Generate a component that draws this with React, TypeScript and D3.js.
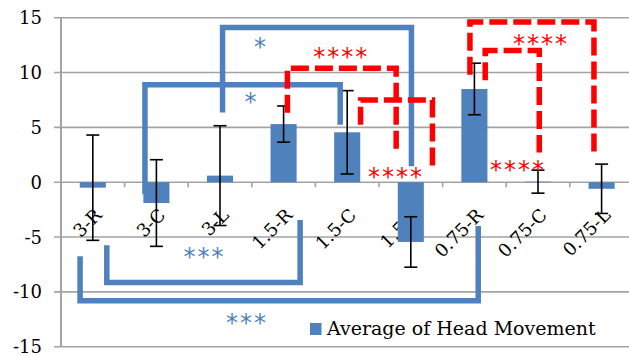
import React from 'react';
import * as d3 from 'd3';

// chart values
const categories = ['3-R', '3-C', '3-L', '1.5-R', '1.5-C', '1.5-L', '0.75-R', '0.75-C', '0.75-L'];
const means = [-0.5, -1.9, 0.6, 5.3, 4.55, -5.45, 8.5, 0.05, -0.6];
const errors = [4.8, 3.95, 4.55, 1.65, 3.8, 2.3, 2.35, 1.05, 2.25];
const yTicks = [-15, -10, -5, 0, 5, 10, 15];
const seriesName = 'Average of Head Movement';

// significance brackets, x in category units (0 = left edge), y in data units
const brackets = [
  { x1: 2.54, x2: 5.51, y: 14.1, end1: 6.36, end2: 1.45, kind: 'blue' },
  { x1: 1.32, x2: 4.39, y: 8.88, end1: -1.1, end2: 5.25, kind: 'blue' },
  { x1: 0.72, x2: 3.76, y: -9.15, end1: -5.75, end2: -3.45, kind: 'blue' },
  { x1: 0.3, x2: 6.56, y: -10.8, end1: -6.75, end2: -4.0, kind: 'blue' },
  { x1: 3.56, x2: 5.27, y: 10.4, end1: 6.34, end2: 2.5, kind: 'red' },
  { x1: 4.71, x2: 5.84, y: 7.5, end1: 5.25, end2: 1.35, kind: 'red' },
  { x1: 6.43, x2: 8.38, y: 14.6, end1: 9.8, end2: 2.8, kind: 'red' },
  { x1: 6.67, x2: 7.52, y: 12.0, end1: 9.3, end2: 2.7, kind: 'red' },
];

const sigLabels = [
  { text: '*', x: 3.13, y: 12.7, kind: 'blue' },
  { text: '*', x: 2.98, y: 7.67, kind: 'blue' },
  { text: '***', x: 2.24, y: -6.5, kind: 'blue' },
  { text: '***', x: 2.91, y: -12.5, kind: 'blue' },
  { text: '****', x: 4.39, y: 11.8, kind: 'red' },
  { text: '****', x: 5.25, y: 0.85, kind: 'red' },
  { text: '****', x: 7.53, y: 12.97, kind: 'red' },
  { text: '****', x: 7.17, y: 1.45, kind: 'red' },
];

const W = 629;
const H = 356;
const BAR = '#4F81BD';
const GRID = '#a3a3a3';
const SERIF = '"DejaVu Serif", serif';

export default function App() {
  const left = 61;
  const right = 633.4;
  const top = 17.7;
  const bottom = 346.7;

  const x = d3.scaleBand().domain(categories).range([left, right]).padding(0);
  const u = d3.scaleLinear().domain([0, categories.length]).range([left, right]);
  const y = d3.scaleLinear().domain([-15, 15]).range([bottom, top]);

  const bw = x.bandwidth();
  const barW = bw * 0.41;
  const capW = 13;
  const y0 = y(0);

  const colorOf = (k) => (k === 'red' ? '#ff0000' : BAR);

  return (
    <svg
      width={W}
      height={H}
      style={{ position: 'absolute', left: 0, top: 0, background: '#fff' }}
    >
      {/* gridlines */}
      {yTicks.map((t) => (
        <g key={t}>
          <line x1={left - 7} x2={W} y1={y(t)} y2={y(t)} stroke={GRID} strokeWidth={1.6} />
          <text
            x={42}
            y={y(t) + 6.5}
            textAnchor="end"
            fontFamily={SERIF}
            fontSize={18}
            fill="#000"
          >
            {t}
          </text>
        </g>
      ))}
      <line x1={left} x2={left} y1={top} y2={bottom} stroke={GRID} strokeWidth={2} />

      {/* category ticks on the zero line */}
      {categories.map((c, i) => (
        <line
          key={c}
          x1={u(i + 1)}
          x2={u(i + 1)}
          y1={y0}
          y2={y0 + 5}
          stroke={GRID}
          strokeWidth={1.6}
        />
      ))}

      {/* category labels (drawn under the bars) */}
      {categories.map((c) => {
        const cx = x(c) + bw / 2 + 10;
        const cy = y0 + 34;
        return (
          <text
            key={c}
            x={cx}
            y={cy}
            transform={`rotate(-45,${cx},${cy})`}
            textAnchor="end"
            fontFamily={SERIF}
            fontSize={18}
            fill="#000"
          >
            {c}
          </text>
        );
      })}

      {/* bars */}
      {categories.map((c, i) => (
        <rect
          key={c}
          x={x(c) + (bw - barW) / 2}
          y={Math.min(y(means[i]), y0)}
          width={barW}
          height={Math.abs(y(means[i]) - y0)}
          fill={BAR}
        />
      ))}

      {/* error bars */}
      {categories.map((c, i) => {
        const cx = x(c) + bw / 2;
        const hi = y(means[i] + errors[i]);
        const lo = y(means[i] - errors[i]);
        return (
          <g key={c} stroke="#000" strokeWidth={1.6}>
            <line x1={cx} x2={cx} y1={hi} y2={lo} />
            <line x1={cx - capW / 2} x2={cx + capW / 2} y1={hi} y2={hi} />
            <line x1={cx - capW / 2} x2={cx + capW / 2} y1={lo} y2={lo} />
          </g>
        );
      })}

      {/* significance brackets */}
      {brackets.map((b, i) => (
        <path
          key={i}
          d={`M${u(b.x1)},${y(b.end1)}L${u(b.x1)},${y(b.y)}L${u(b.x2)},${y(b.y)}L${u(b.x2)},${y(b.end2)}`}
          fill="none"
          stroke={colorOf(b.kind)}
          strokeWidth={5.5}
          strokeLinejoin="miter"
          strokeDasharray={b.kind === 'red' ? '18 6' : undefined}
        />
      ))}

      {sigLabels.map((s, i) => (
        <text
          key={i}
          x={u(s.x) + 1}
          y={y(s.y) + 12}
          textAnchor="middle"
          fontFamily='"DejaVu Sans", sans-serif'
          fontSize={24}
          letterSpacing={2}
          fill={colorOf(s.kind)}
        >
          {s.text}
        </text>
      ))}

      {/* legend */}
      <rect x={310} y={323} width={11.5} height={12} fill={BAR} />
      <text x={327} y={335} fontFamily={SERIF} fontSize={19} fill="#000">
        {seriesName}
      </text>
    </svg>
  );
}
